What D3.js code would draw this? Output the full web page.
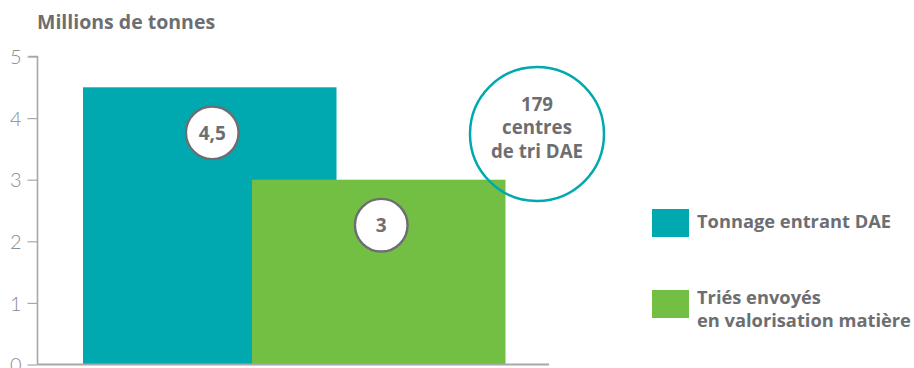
<!DOCTYPE html>
<html>
<head>
<meta charset="utf-8">
<script src="https://cdn.jsdelivr.net/npm/d3@7"></script>
<style>
  html, body { margin: 0; padding: 0; background: #fff; }
  svg { display: block; }
</style>
</head>
<body>
<svg id="chart" width="914" height="368"></svg>
<script>
const categories = ["Tonnage entrant DAE", "Triés envoyés en valorisation matière"];
const values = [4.5, 3];
const valueLabels = ["4,5", "3"];
const legendLines = [["Tonnage entrant DAE"], ["Triés envoyés", "en valorisation matière"]];
const yTicks = [0, 1, 2, 3, 4, 5];
const calloutLines = ["179", "centres", "de tri DAE"];
const yTitle = "Millions de tonnes";
const colors = ["#00a9b0", "#72bf44"];

const FONT = "'Open Sans', 'Noto Sans', sans-serif";
const TICKFONT = "Lato, 'Open Sans', sans-serif";
const GRAY = "#6d6e71";
const svg = d3.select("#chart");

const y = d3.scaleLinear().domain([0, 5]).range([364.5, 56.5]);
const x = d3.scaleBand().domain(categories).range([83, 421]).paddingInner(0).paddingOuter(0);
const barW = x.bandwidth() * 1.5;

// bars
svg.append("g").selectAll("rect").data(values).join("rect")
  .attr("x", (d, i) => x(categories[i]))
  .attr("y", d => y(d))
  .attr("width", barW)
  .attr("height", d => y(0) - y(d))
  .attr("fill", (d, i) => colors[i]);

// y axis
const yAxis = d3.axisLeft(y).tickValues(yTicks).tickSize(10).tickPadding(6).tickFormat(d3.format("d"));
const gy = svg.append("g").attr("transform", "translate(37.5,0)").call(yAxis);
gy.select(".domain").attr("stroke", "#a7a7aa").attr("stroke-width", 1.6).attr("d", `M-9,${y(5)}H0V${y(0)}`);
gy.selectAll(".tick line").attr("stroke", "#a7a7aa").attr("stroke-width", 1.2);
gy.selectAll(".tick text").attr("fill", "#8c8c90").attr("font-family", TICKFONT).attr("font-weight", 300)
  .attr("font-size", 20).attr("dy", "0.36em");

// baseline
svg.append("line").attr("x1", 37.5).attr("x2", 549).attr("y1", y(0)).attr("y2", y(0))
  .attr("stroke", "#a7a7aa").attr("stroke-width", 2);

// title
svg.append("text").attr("x", 37).attr("y", 29).text(yTitle)
  .attr("font-family", FONT).attr("font-weight", 700).attr("font-size", 19.5).attr("fill", GRAY);

// value circles
const lab = svg.append("g").selectAll("g").data(values).join("g")
  .attr("transform", (d, i) => `translate(${x(categories[i]) + barW / 2 + 2.5},${y(d) + 45.5})`);
lab.append("circle").attr("r", 26.3).attr("fill", "#fff").attr("stroke", GRAY).attr("stroke-width", 2.4);
lab.append("text").text((d, i) => valueLabels[i]).attr("text-anchor", "middle").attr("dy", "0.36em")
  .attr("font-family", FONT).attr("font-weight", 700).attr("font-size", 19).attr("fill", GRAY);

// callout circle
const co = svg.append("g").attr("transform", "translate(537,134)");
co.append("circle").attr("r", 67).attr("fill", "none").attr("stroke", "#00a9b0").attr("stroke-width", 2.5);
co.append("text").attr("text-anchor", "middle").attr("font-family", FONT).attr("font-weight", 700)
  .attr("font-size", 18.7).attr("fill", GRAY)
  .selectAll("tspan").data(calloutLines).join("tspan")
  .attr("x", 0).attr("y", (d, i) => -23.5 + i * 23.5).text(d => d);

// legend
const leg = svg.append("g").selectAll("g").data(legendLines).join("g")
  .attr("transform", (d, i) => `translate(652,${209 + i * 81})`);
leg.append("rect").attr("width", 37).attr("height", 28).attr("fill", (d, i) => colors[i]);
leg.append("text").attr("font-family", FONT).attr("font-weight", 700).attr("font-size", 18.3).attr("fill", GRAY)
  .each(function (lines) {
    d3.select(this).selectAll("tspan").data(lines).join("tspan")
      .attr("x", 45).attr("y", (d, i) => 19 - (lines.length - 1) * 5.5 + i * 23.5).text(d => d);
  });
</script>
</body>
</html>
